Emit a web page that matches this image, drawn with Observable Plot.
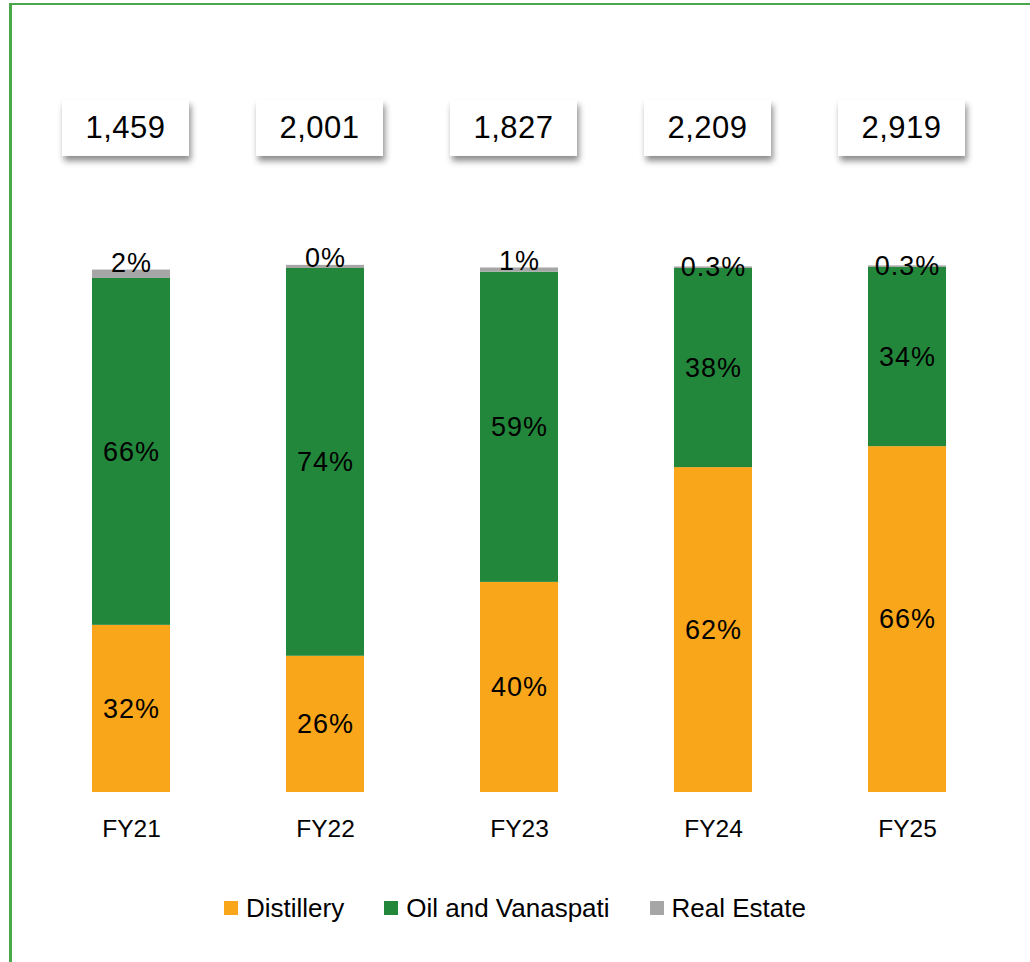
<!DOCTYPE html>
<html>
<head>
<meta charset="utf-8">
<script src="https://cdn.jsdelivr.net/npm/d3@7"></script>
<script src="https://cdn.jsdelivr.net/npm/@observablehq/plot@0.6"></script>
<style>
  html, body { margin: 0; padding: 0; background: #fff; overflow: hidden; width: 1030px; height: 962px; }
  #frame { position: absolute; left: 9px; top: 3px; width: 1100px; height: 1000px;
           border-left: 3px solid #4aa84a; border-top: 2px solid #4aa84a; box-sizing: border-box; }
  #chart { position: absolute; left: 0; top: 0; }
  #legend { position: absolute; left: 0; top: 890px; width: 1030px; height: 36px;
            display: flex; justify-content: center; align-items: center;
            font-family: "Liberation Sans", Arial, sans-serif; font-size: 26px; color: #000; }
  .item { display: flex; align-items: center; margin: 0 20px; }
  .sw { width: 14px; height: 14px; margin-right: 8px; }
  .pct text { letter-spacing: 1px; }
  .totals text { letter-spacing: 0.5px; }
</style>
</head>
<body>
<div id="frame"></div>
<div id="chart"></div>
<div id="legend"></div>
<script>
const years = ["FY21", "FY22", "FY23", "FY24", "FY25"];
const totals = [1459, 2001, 1827, 2209, 2919];
const distillery = [31.9, 26.0, 40.1, 62.0, 66.0];
const oilVanaspati = [66.2, 74.0, 59.2, 38.0, 34.2];
const realEstate = [1.6, 0.6, 0.8, 0.3, 0.3];
const distilleryLabels = ["32%", "26%", "40%", "62%", "66%"];
const oilLabels = ["66%", "74%", "59%", "38%", "34%"];
const realEstateLabels = ["2%", "0%", "1%", "0.3%", "0.3%"];
const segments = ["Distillery", "Oil and Vanaspati", "Real Estate"];
const colors = ["#F9A61B", "#23873B", "#A6A6A6"];

const data = [];
years.forEach((y, i) => {
  data.push({year: y, segment: segments[0], value: distillery[i], label: distilleryLabels[i]});
  data.push({year: y, segment: segments[1], value: oilVanaspati[i], label: oilLabels[i]});
  data.push({year: y, segment: segments[2], value: realEstate[i], label: realEstateLabels[i]});
});
const totalData = years.map((y, i) => ({year: y, total: totals[i]}));
const font = "'Liberation Sans', Arial, sans-serif";

const chart = Plot.plot({
  width: 1030,
  height: 870,
  marginTop: 268,
  marginBottom: 78,
  marginLeft: 53,
  marginRight: 45,
  style: {fontFamily: font, background: "transparent", color: "#000", overflow: "visible"},
  x: {domain: years, paddingInner: 0.598, paddingOuter: 0.2, label: null, axis: null},
  y: {domain: [0, 100], axis: null},
  color: {domain: segments, range: colors},
  marks: [
    Plot.barY(data, Plot.stackY({x: "year", y: "value", z: "segment", fill: "segment", order: null})),
    Plot.text(data, Plot.stackY({
      x: "year", y: "value", z: "segment", order: null,
      text: d => (d.segment !== "Real Estate" || d.value < 0.5) ? d.label : "",
      fontSize: 27, fill: "#000", lineAnchor: "middle", className: "pct"
    })),
    Plot.text(data, Plot.stackY2({
      x: "year", y: "value", z: "segment", order: null,
      text: d => (d.segment === "Real Estate" && d.value >= 0.5) ? d.label : "",
      fontSize: 27, fill: "#000", lineAnchor: "bottom", dy: 2, className: "pct"
    })),
    Plot.axisX({tickSize: 0, tickPadding: 27, fontSize: 24.5, label: null}),
    Plot.text(totalData, {
      x: "year", frameAnchor: "top", text: d => d3.format(",")(d.total),
      dy: -140, dx: -6, fontSize: 31, fill: "#000", lineAnchor: "middle", className: "totals"
    })
  ]
});
document.getElementById("chart").appendChild(chart);

// white boxes with a soft shadow behind the total labels
const svg = d3.select(chart);
const defs = svg.insert("defs", ":first-child");
const f = defs.append("filter").attr("id", "shadow").attr("x", "-20%").attr("y", "-30%").attr("width", "140%").attr("height", "170%");
f.append("feDropShadow").attr("dx", 2).attr("dy", 5).attr("stdDeviation", 3)
  .attr("flood-color", "#000").attr("flood-opacity", 0.45);
const svgRect = chart.getBoundingClientRect();
const boxes = svg.insert("g", ".totals");
svg.selectAll(".totals text").each(function () {
  const r = this.getBoundingClientRect();
  const cx = (r.left + r.right) / 2 - svgRect.left;
  const cy = (r.top + r.bottom) / 2 - svgRect.top;
  boxes.append("rect").attr("x", cx - 63.5).attr("y", cy - 28).attr("width", 127).attr("height", 56)
    .attr("fill", "#fff").attr("filter", "url(#shadow)");
});

// legend
const legend = d3.select("#legend");
segments.forEach((s, i) => {
  const it = legend.append("div").attr("class", "item");
  it.append("div").attr("class", "sw").style("background", colors[i]);
  it.append("span").text(s);
});
</script>
</body>
</html>
